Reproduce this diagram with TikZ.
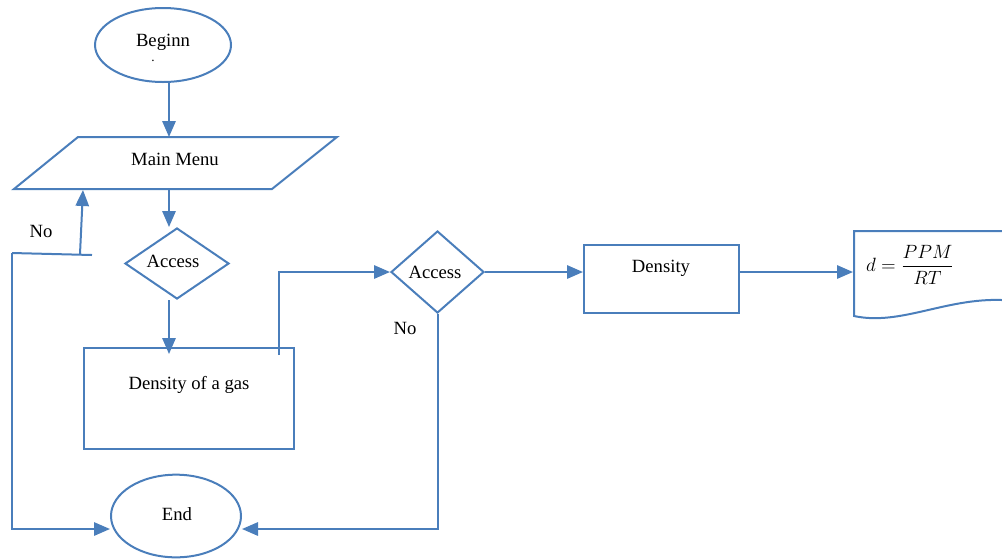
\documentclass[tikz,border=0pt]{standalone}
\usepackage{amsmath}
\usepackage{amssymb}
\usepackage{fontspec}
\setmainfont{Liberation Serif}
\usepackage{tikz}
\usetikzlibrary{shapes.geometric,arrows.meta}
\definecolor{lineblue}{RGB}{74,126,187}

\begin{document}
\begin{tikzpicture}[x=0.75pt,y=0.75pt,yscale=-1,xscale=1,
  line/.style={draw=lineblue,line width=1.5pt},
  flow/.style={line,-{Triangle[length=12pt,width=10pt]}},
  txt/.style={inner sep=0.75pt,font=\fontsize{14}{16}\selectfont}]
\useasboundingbox (0,0) rectangle (1002,558);

%Begin / End ellipses
\node [line,ellipse,inner sep=0,minimum width=102pt,minimum height=55.5pt] (begin) at (163,45) {};
\node [txt] (begintxt) at (163,42) {Beginn};
\node [inner sep=0,font=\fontsize{10}{10}\selectfont] (begindot) at (153,61) {.};
\node [line,ellipse,inner sep=0,minimum width=97.5pt,minimum height=62pt] (end) at (176,516) {};
\node [txt] (endtxt) at (177,514) {End};

%Main menu parallelogram
\draw [line] (78,137) -- (337,137) -- (272,189) -- (14,189) -- cycle ;
\node [txt] (menutxt) at (175,159) {Main Menu};
\coordinate (m1) at (169,137);
\coordinate (m2) at (169,189);
\coordinate (m3) at (83,190);

%Decisions
\node [line,diamond,inner sep=0,minimum width=78pt,minimum height=53.25pt] (acc1) at (177,263.5) {};
\node [txt] (acc1txt) at (173,261) {Access};
\node [line,diamond,inner sep=0,minimum width=69.75pt,minimum height=61.5pt] (acc2) at (437.5,272) {};
\node [txt] (acc2txt) at (435,272) {Access};

%Process boxes
\node [line,rectangle,inner sep=0,minimum width=157.5pt,minimum height=75.75pt] (gasbox) at (189,398.5) {};
\node [txt] (gastxt) at (189,385) {Density of a gas};
\node [line,rectangle,inner sep=0,minimum width=116.25pt,minimum height=51pt] (dens) at (661.5,279) {};
\node [txt] (denstxt) at (661,268) {Density};

%Document with formula
\draw [line] (1002,231) -- (854,231) -- (854,316) .. controls (900,326) and (945,298) .. (1002,300) ;
\coordinate (d1) at (853,272);
\node [inner sep=0,font=\fontsize{15}{17}\selectfont] (formula) at (910,265) {$d=\dfrac{PPM}{RT}$};

%Connectors
\draw [flow] ([xshift=4.5pt]begin.south) -- (m1);
\draw [flow] (m2) -- (acc1.north -| m2);
\draw [flow] (acc1.south -| m2) -- ([yshift=5.25pt]gasbox.north -| m2);
\coordinate (g1) at (279,355);
\draw [flow] (g1) |- (acc2.west);
\draw [flow] (acc2.east) -- (acc2.east -| dens.west);
\draw [flow] (acc2.east -| dens.east) -- (d1);
\draw [flow] (acc2.south) |- ([yshift=9.75pt]end.east);

%No loop
\coordinate (n1) at (12,253);
\coordinate (n2) at (92,255);
\coordinate (n3) at (80,254);
\draw [line] (n1) -- (n2);
\draw [flow] (n1) |- ([yshift=9.75pt]end.west);
\draw [flow] (n3) -- (m3);

% Text Node
\node [txt] (no1) at (41,231) {No};
% Text Node
\node [txt] (no2) at (405,328) {No};

\end{tikzpicture}
\end{document}
